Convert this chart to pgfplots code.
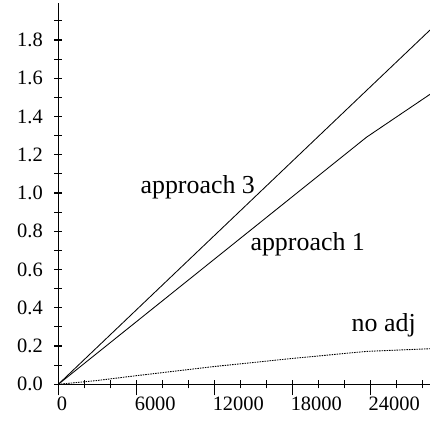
\documentclass[border=0pt]{standalone}
\usepackage{pgfplots}
\pgfplotsset{compat=1.18}
\usepackage{fontspec}
\setmainfont{Liberation Serif}
\begin{document}
\begin{tikzpicture}
\begin{axis}[
  name=ax,
  anchor=origin,
  at={(0,0)},
  scale only axis,
  width=371.7bp, height=381.6bp,
  xmin=0, xmax=28600, ymin=0, ymax=1.995,
  axis x line=bottom, axis y line=left,
  axis line style={-, line width=1.1bp},
  xtick={0,6000,12000,18000,24000},
  minor xtick={2000,4000,8000,10000,14000,16000,20000,22000,26000,28000},
  extra x ticks={0,6000,12000,18000,24000},
  extra x tick labels={},
  extra x tick style={tick align=outside, major tick length=11bp},
  ytick={0,0.2,0.4,0.6,0.8,1.0,1.2,1.4,1.6,1.8},
  minor ytick={0.1,0.3,0.5,0.7,0.9,1.1,1.3,1.5,1.7,1.9},
  scaled x ticks=false,
  xticklabel style={font=\fontsize{20.5}{22}\selectfont, anchor=north west, xshift=-5bp, yshift=-5bp, /pgf/number format/.cd,fixed,1000 sep={},assume math mode=true},
  yticklabel style={font=\fontsize{20.5}{22}\selectfont, xshift=-8bp, /pgf/number format/.cd,fixed,fixed zerofill,precision=1,assume math mode=true},
  tick align=center,
  major tick length=8bp, minor tick length=8bp,
  tick style={line width=1.1bp, black},
  clip=false,
]
\addplot[black, line width=0.85bp] coordinates {(0,0) (23700,1.535) (28600,1.852)};
\addplot[black, line width=0.85bp] coordinates {(0,0) (23720,1.292) (28600,1.516)};
\addplot[black, line width=0.9bp, dash pattern=on 1.5bp off 1bp] coordinates {(0,0) (3000,0.02) (6000,0.045) (12000,0.093) (18000,0.135) (23700,0.172) (28600,0.186)};
\node[font=\fontsize{26}{26}\selectfont] at (axis cs:10730,1.03) {approach 3};
\node[font=\fontsize{26}{26}\selectfont] at (axis cs:19190,0.73) {approach 1};
\node[font=\fontsize{26}{26}\selectfont] at (axis cs:25040,0.31) {no adj};
\end{axis}
\pgfresetboundingbox
\path[use as bounding box] (-58.3bp,-38.7bp) rectangle (371.7bp,384.3bp);
\end{tikzpicture}
\end{document}
